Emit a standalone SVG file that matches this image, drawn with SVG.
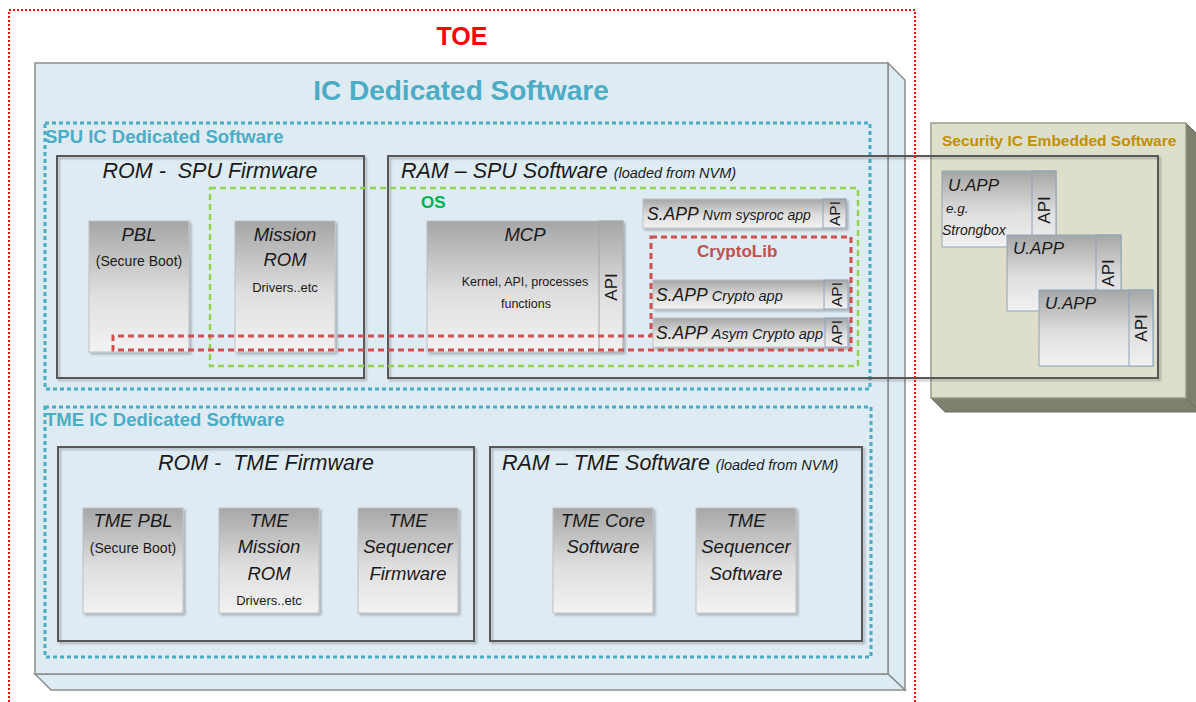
<svg xmlns="http://www.w3.org/2000/svg" width="1196" height="702" viewBox="0 0 1196 702">
<defs>
<linearGradient id="g" x1="0" y1="0" x2="0" y2="1">
<stop offset="0" stop-color="#A6A6A6"/>
<stop offset="0.55" stop-color="#DEDEDE"/>
<stop offset="1" stop-color="#F2F2F2"/>
</linearGradient>
<filter id="sh" x="-10%" y="-10%" width="130%" height="130%">
<feDropShadow dx="2" dy="2" stdDeviation="1.2" flood-color="#000" flood-opacity="0.25"/>
</filter>
<style>
text{font-family:"Liberation Sans",Arial,sans-serif;fill:#1a1a1a}
.it{font-style:italic}
.b{font-weight:bold}
.mid{text-anchor:middle}
.tile{fill:url(#g);stroke:#BFBFBF;stroke-width:1;filter:url(#sh)}
.utile{fill:url(#g);stroke:#8FA3B8;stroke-width:1}
.api{fill:url(#g);stroke:#8FA3B8;stroke-width:1}
.apit{font-size:17px;text-anchor:middle;dominant-baseline:central}
.panel{fill:none;stroke:#595959;stroke-width:2;filter:url(#sh)}
.blue{fill:none;stroke:#4BACC6;stroke-width:3;stroke-dasharray:4 3}
.green{fill:none;stroke:#92D050;stroke-width:2.5;stroke-dasharray:6 4}
.red{fill:none;stroke:#D05050;stroke-width:3;stroke-dasharray:6 4}
.bt{fill:#4BACC6;font-weight:bold}
.ptitle{font-size:21.5px;font-style:italic}
.ttitle{font-size:18.5px;font-style:italic;text-anchor:middle}
.sm{font-size:14px}
</style>
</defs>

<g id="ic-dedicated-software">
<polygon points="888,63 905,80 905,690 888,674" fill="#DDEBF3" stroke="#8C8C8C" stroke-width="1.5"/>
<polygon points="35,674 888,674 905,690 51,690" fill="#DDEBF3" stroke="#8C8C8C" stroke-width="1.5"/>
<rect x="35" y="63" width="853" height="611" fill="#DEEBF3" stroke="#8C8C8C" stroke-width="1.5"/>
<text x="461" y="100" class="b mid" style="font-size:28px;fill:#4BACC6">IC Dedicated Software</text>
</g>

<g id="security-ic-embedded-software">
<polygon points="1186,123 1200,137 1200,412 1186,398" fill="#7F7F6E" stroke="#6E6E60" stroke-width="1"/>
<polygon points="931,398 1186,398 1200,412 945,412" fill="#7F7F6E" stroke="#6E6E60" stroke-width="1"/>
<rect x="931" y="123" width="255" height="275" fill="#DDDFCB" stroke="#9A9A8A" stroke-width="1.5"/>
<text x="942" y="146" class="b" style="font-size:15.5px;fill:#BF9000">Security IC Embedded Software</text>
</g>

<g id="spu-ic-dedicated-software">
<rect x="45" y="123" width="825" height="266" class="blue"/>
<text x="45" y="143" class="bt" style="font-size:18.5px">SPU IC Dedicated Software</text>
</g>

<g id="rom-spu-firmware">
<rect x="57" y="156" width="307" height="222" class="panel"/>
<text x="210" y="178" class="ptitle mid" xml:space="preserve">ROM -  SPU Firmware</text>
</g>

<g id="ram-spu-software">
<rect x="388" y="156" width="770" height="222" class="panel"/>
<text x="401" y="178"><tspan class="ptitle">RAM – SPU Software </tspan><tspan class="it" style="font-size:14.5px">(loaded from NVM)</tspan></text>
</g>

<g id="os">
<rect x="210" y="188" width="648" height="178" class="green"/>
<text x="421" y="208" class="b" style="font-size:17px;fill:#00B050">OS</text>
</g>

<g id="pbl">
<rect x="89" y="221" width="100" height="131" class="tile"/>
<text x="139" y="241" class="ttitle">PBL</text>
<text x="139" y="266" class="sm mid">(Secure Boot)</text>
</g>

<g id="mission-rom">
<rect x="235" y="221" width="100" height="131" class="tile"/>
<text x="285" y="241" class="ttitle">Mission</text>
<text x="285" y="266" class="ttitle">ROM</text>
<text x="285" y="292" class="mid" style="font-size:13px">Drivers..etc</text>
</g>

<g id="mcp">
<rect x="427" y="221" width="196" height="131" class="tile"/>
<rect x="599" y="221" width="24" height="131" class="api" style="stroke:#A6A6A6"/>
<text x="525" y="241" class="ttitle">MCP</text>
<text x="525" y="286" class="mid" style="font-size:12.5px">Kernel, API, processes</text>
<text x="526" y="308" class="mid" style="font-size:12.5px">functions</text>
<text class="apit" transform="translate(611,287) rotate(-90)">API</text>
</g>

<g id="sapp-nvm-sysproc">
<rect x="643" y="199" width="203" height="29" class="tile"/>
<rect x="823" y="199" width="23" height="29" class="api"/>
<text x="647" y="220"><tspan class="it" style="font-size:17.5px">S.APP </tspan><tspan class="it" style="font-size:14px">Nvm sysproc app</tspan></text>
<text class="apit" style="font-size:15.5px" transform="translate(834.5,213.5) rotate(-90)">API</text>
</g>

<g id="sapp-crypto">
<rect x="653" y="280" width="195" height="29" class="tile"/>
<rect x="824" y="280" width="24" height="29" class="api"/>
<text x="656" y="301"><tspan class="it" style="font-size:17.5px">S.APP </tspan><tspan class="it" style="font-size:14.5px">Crypto app</tspan></text>
<text class="apit" style="font-size:15.5px" transform="translate(836,294.5) rotate(-90)">API</text>
</g>

<g id="sapp-asym-crypto">
<rect x="653" y="318" width="195" height="29" class="tile"/>
<rect x="825" y="318" width="23" height="29" class="api"/>
<text x="656" y="339"><tspan class="it" style="font-size:17.5px">S.APP </tspan><tspan class="it" style="font-size:14.5px">Asym Crypto app</tspan></text>
<text class="apit" style="font-size:15.5px" transform="translate(836.5,332.5) rotate(-90)">API</text>
</g>

<g id="cryptolib">
<path d="M651,237 H851 V350 H113 V336 H651 Z" class="red"/>
<text x="697" y="257" class="b" style="font-size:17px;fill:#C0504D">CryptoLib</text>
</g>

<g id="uapp-1">
<rect x="942" y="171" width="114" height="76" class="utile"/>
<rect x="1032" y="171" width="24" height="76" class="api"/>
<text x="948" y="191" class="it" style="font-size:17px">U.APP</text>
<text x="946" y="213" class="it" style="font-size:13.5px">e.g.</text>
<text x="942" y="235" class="it" style="font-size:14px">Strongbox</text>
<text class="apit" transform="translate(1044,210) rotate(-90)">API</text>
</g>

<g id="uapp-2">
<rect x="1007" y="235" width="114" height="76" class="utile"/>
<rect x="1096" y="235" width="25" height="76" class="api"/>
<text x="1013" y="254" class="it" style="font-size:17px">U.APP</text>
<text class="apit" transform="translate(1108.5,273) rotate(-90)">API</text>
</g>

<g id="uapp-3">
<rect x="1039" y="290" width="114" height="76" class="utile"/>
<rect x="1129" y="290" width="24" height="76" class="api"/>
<text x="1045" y="309" class="it" style="font-size:17px">U.APP</text>
<text class="apit" transform="translate(1141,328) rotate(-90)">API</text>
</g>

<g id="tme-ic-dedicated-software">
<rect x="45" y="407" width="826" height="250" class="blue"/>
<text x="45" y="426" class="bt" style="font-size:18.5px">TME IC Dedicated Software</text>
</g>

<g id="rom-tme-firmware">
<rect x="58" y="447" width="416" height="194" class="panel"/>
<text x="266" y="470" class="ptitle mid" xml:space="preserve">ROM -  TME Firmware</text>
</g>

<g id="tme-pbl">
<rect x="83" y="508" width="100" height="105" class="tile"/>
<text x="133" y="527" class="ttitle">TME PBL</text>
<text x="133" y="553" class="sm mid">(Secure Boot)</text>
</g>

<g id="tme-mission-rom">
<rect x="219" y="508" width="100" height="105" class="tile"/>
<text x="269" y="527" class="ttitle">TME</text>
<text x="269" y="553" class="ttitle">Mission</text>
<text x="269" y="580" class="ttitle">ROM</text>
<text x="269" y="605" class="mid" style="font-size:13px">Drivers..etc</text>
</g>

<g id="tme-sequencer-firmware">
<rect x="358" y="508" width="100" height="105" class="tile"/>
<text x="408" y="527" class="ttitle">TME</text>
<text x="408" y="553" class="ttitle">Sequencer</text>
<text x="408" y="580" class="ttitle">Firmware</text>
</g>

<g id="ram-tme-software">
<rect x="490" y="447" width="372" height="194" class="panel"/>
<text x="502" y="470"><tspan class="ptitle">RAM – TME Software </tspan><tspan class="it" style="font-size:14.5px">(loaded from NVM)</tspan></text>
</g>

<g id="tme-core-software">
<rect x="553" y="508" width="100" height="105" class="tile"/>
<text x="603" y="527" class="ttitle">TME Core</text>
<text x="603" y="553" class="ttitle">Software</text>
</g>

<g id="tme-sequencer-software">
<rect x="696" y="508" width="100" height="105" class="tile"/>
<text x="746" y="527" class="ttitle">TME</text>
<text x="746" y="553" class="ttitle">Sequencer</text>
<text x="746" y="580" class="ttitle">Software</text>
</g>

<g id="toe">
<rect x="9" y="10" width="906" height="710" fill="none" stroke="#FF0000" stroke-width="2" stroke-dasharray="2 2"/>
<text x="462" y="45" class="b mid" style="font-size:25px;fill:#FF0000">TOE</text>
</g>

<g id="connectors"/>
</svg>
